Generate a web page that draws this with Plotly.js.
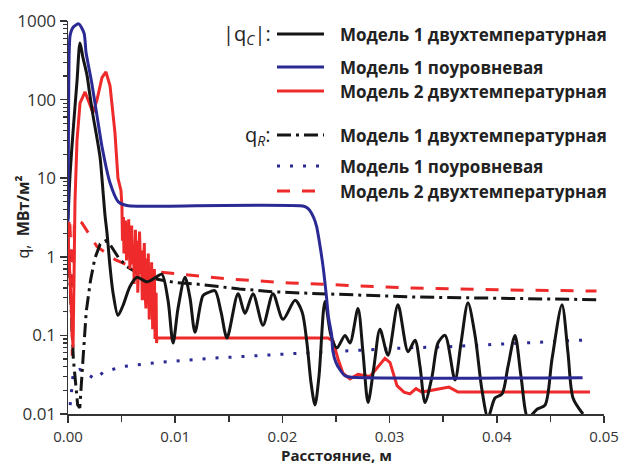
<!DOCTYPE html>
<html><head><meta charset="utf-8">
<script src="https://cdn.plot.ly/plotly-3.0.1.min.js"></script>
<style>html,body{margin:0;padding:0;background:#fff}#g{width:621px;height:466px}</style>
</head><body><div id="g"></div>
<script>
// |q_c| Model 1 two-temperature (black solid)
const x_qc1_2T = [0,0.00019,0.00047,0.00084,0.00112,0.0014,0.00177,0.002,0.00233,0.00271,0.003,0.00327,0.00345,0.00364,0.00392,0.00420,0.00466,0.00513,0.00578,0.00644,0.00737,0.0083,0.00876,0.00933,0.0098,0.01026,0.01091,0.01138,0.01185,0.01259,0.01306,0.01371,0.01427,0.01483,0.01586,0.01651,0.01726,0.01819,0.01912,0.02006,0.02118,0.02183,0.02229,0.02267,0.02304,0.02341,0.02397,0.02453,0.02509,0.02584,0.02631,0.02705,0.02752,0.02799,0.02854,0.0291,0.02985,0.03078,0.03172,0.03237,0.03284,0.0333,0.03396,0.03451,0.03517,0.0361,0.03666,0.03731,0.03797,0.03862,0.03918,0.03983,0.04049,0.04104,0.0417,0.04226,0.04291,0.04375,0.0445,0.04515,0.04608,0.04664,0.04711,0.04804];
const qc1_2T   = [3,11,39,170,525,340,205,125,63,32,18,6.7,3.4,2.0,0.75,0.35,0.18,0.24,0.42,0.55,0.48,0.56,0.6,0.28,0.08,0.22,0.55,0.3,0.11,0.32,0.35,0.37,0.2,0.093,0.34,0.19,0.34,0.135,0.34,0.16,0.28,0.2,0.08,0.025,0.013,0.03,0.27,0.1,0.069,0.1,0.08,0.22,0.06,0.014,0.04,0.12,0.056,0.245,0.062,0.087,0.04,0.014,0.03,0.08,0.1,0.027,0.08,0.26,0.1,0.02,0.009,0.016,0.018,0.04,0.1,0.03,0.009,0.0115,0.013,0.05,0.245,0.06,0.016,0.01];

// |q_c| Model 1 level-based (blue solid)
const x_qc1_lvl = [0,0.00005,0.0001,0.0002,0.0005,0.001,0.0015,0.00168,0.0019,0.0022,0.0027,0.0032,0.0039,0.0047,0.0055,0.0065,0.0220,0.0224,0.0229,0.0232,0.0235,0.0238,0.0241,0.0243,0.0246,0.0247,0.0250,0.0254,0.0258,0.0263,0.0480];
const qc1_lvl   = [2.8,60,350,660,840,920,700,400,275,167,63,24,8.9,5.0,4.5,4.4,4.4,4.1,3.2,2.4,1.4,0.74,0.32,0.17,0.1,0.064,0.045,0.036,0.031,0.0295,0.029];

// |q_c| Model 2 two-temperature (red solid)
const x_qc2_2T = [0,0.00019,0.00037,0.00047,0.00056,0.00065,0.00084,0.00112,0.00159,0.00196,0.00233,0.00271,0.00317,0.00354,0.00392,0.00438,0.00466,0.00494,
0.00503,0.00508,0.00517,0.00522,0.00529,0.00536,0.00546,0.00552,0.00561,0.00566,0.00578,0.00584,0.00594,0.00601,0.00612,0.00617,0.00629,0.00633,0.00645,0.00651,0.00660,0.00667,0.00679,0.00684,0.00693,0.00701,0.00712,0.00716,0.00727,0.00733,0.00745,0.00749,0.00758,0.00766,0.00775,0.00780,0.00790,0.00795,0.00806,0.00812,0.00822,0.00826,0.00830,
0.02425,0.02472,0.02519,0.02565,0.02631,0.02705,0.02817,0.02892,0.02957,0.03004,0.03069,0.03134,0.0319,0.03246,0.03302,0.0347,0.03554,0.03638,0.04869];
const qc2_2T   = [2.0,0.5,0.1,0.07,0.5,5,30,90,125,90,68,100,190,225,150,38,10,7,
4.5,1.6,3.2,1.1,2.4,2.9,0.9,2.0,1.3,3.0,0.7,1.9,2.5,0.8,1.4,0.45,2.2,1.0,1.6,0.35,0.9,2.1,0.6,1.2,0.28,0.8,1.5,0.4,0.22,0.95,0.5,1.1,0.16,0.6,0.3,0.85,0.12,0.45,0.7,0.09,0.35,0.08,0.093,
0.093,0.085,0.05,0.033,0.028,0.032,0.03,0.04,0.051,0.045,0.023,0.019,0.018,0.021,0.019,0.021,0.022,0.019,0.019];

// q_R Model 1 two-temperature (black dash-dot)
const x_qr1_2T = [0,0.0002,0.0005,0.0009,0.0011,0.0014,0.0017,0.0021,0.0025,0.003,0.0035,0.0039,0.0047,0.0055,0.007,0.01,0.012,0.016,0.019,0.0216,0.0322,0.04,0.0493];
const qr1_2T   = [1.8,0.5,0.05,0.013,0.012,0.05,0.2,0.5,0.95,1.45,1.6,1.45,0.98,0.75,0.56,0.47,0.45,0.39,0.36,0.347,0.308,0.297,0.285];

// q_R Model 1 level-based (blue dotted)
const x_qr1_lvl = [0.0002,0.0004,0.0005,0.0011,0.0025,0.0033,0.005,0.0089,0.0132,0.0223,0.0322,0.0347,0.0420,0.0487];
const qr1_lvl   = [0.013,0.023,0.034,0.037,0.028,0.034,0.040,0.046,0.051,0.06,0.07,0.071,0.079,0.088];

// q_R Model 2 two-temperature (red dashed)
const x_qr2_2T = [0,0.00015,0.0003,0.0004,0.0005,0.0006,0.0013,0.0027,0.0044,0.0062,0.0086,0.0125,0.015,0.0207,0.025,0.0322,0.04,0.0493];
const qr2_2T   = [1.9,3.2,1.0,0.055,0.5,3.0,2.7,1.35,0.92,0.72,0.64,0.56,0.52,0.465,0.44,0.40,0.38,0.367];

const xTicks = [0,0.01,0.02,0.03,0.04,0.05];
const xTickText = ['0.00','0.01','0.02','0.03','0.04','0.05'];
const yTicks = [0.01,0.1,1,10,100,1000];
const yTickText = ['0.01','0.1','1','10','100','1000'];

const legendLabels = ['Модель 1 двухтемпературная','Модель 1 поуровневая','Модель 2 двухтемпературная',
                      'Модель 1 двухтемпературная','Модель 1 поуровневая','Модель 2 двухтемпературная'];

const BLACK='#151515', BLUE='#2b2a95', RED='#ee2a2a';
const W=3;
const styles = [
  {color:BLACK,width:W,dash:'solid'},
  {color:BLUE,width:W,dash:'solid'},
  {color:RED,width:W,dash:'solid'},
  {color:BLACK,width:W,dash:'14px,5px,3px,5px'},
  {color:BLUE,width:W,dash:'3px,10px'},
  {color:RED,width:W,dash:'13px,12px'}
];

const traces = [
  {x:x_qr1_lvl,y:qr1_lvl,line:styles[4]},
  {x:x_qr2_2T,y:qr2_2T,line:styles[5]},
  {x:x_qr1_2T,y:qr1_2T,line:styles[3]},
  {x:x_qc2_2T,y:qc2_2T,line:Object.assign({shape:'linear'},styles[2])},
  {x:x_qc1_2T,y:qc1_2T,line:Object.assign({shape:'spline',smoothing:0.8},styles[0])},
  {x:x_qc1_lvl,y:qc1_lvl,line:Object.assign({shape:'spline',smoothing:0.6},styles[1])}
].map(t=>Object.assign({type:'scatter',mode:'lines',showlegend:false,hoverinfo:'skip'},t));

// minor log ticks
const yMinor=[];
for(let d=-2;d<3;d++){for(let k=2;k<=9;k++){yMinor.push(k*Math.pow(10,d));}}
const xMinor=[0.005,0.015,0.025,0.035,0.045];

// legend (custom) in plot-area paper coords
const L=68, T=21, PW=536, PH=393;
const px2x = p => (p-L)/PW, py2y = p => (T+PH-p)/PH;
const rowsY=[34,67,91,135,166,191];
const shapes=[], annotations=[];
rowsY.forEach((ry,i)=>{
  shapes.push({type:'line',xref:'paper',yref:'paper',x0:px2x(277),x1:px2x(324),y0:py2y(ry),y1:py2y(ry),
    line:{color:styles[i].color,width:W,dash:styles[i].dash}});
  annotations.push({xref:'paper',yref:'paper',x:px2x(338),y:py2y(ry),xanchor:'left',yanchor:'middle',
    text:'<b>'+legendLabels[i]+'</b>',showarrow:false,font:{size:17,color:'#222'}});
});
annotations.push({xref:'paper',yref:'paper',x:px2x(273),y:py2y(rowsY[0]),xanchor:'right',yanchor:'middle',
  text:'|q<sub><i>C</i></sub>|:',showarrow:false,font:{size:20,color:'#222'}});
annotations.push({xref:'paper',yref:'paper',x:px2x(273),y:py2y(rowsY[3]),xanchor:'right',yanchor:'middle',
  text:'q<sub><i>R</i></sub>:',showarrow:false,font:{size:20,color:'#222'}});
// axis titles placed as annotations to match reference positions
annotations.push({xref:'paper',yref:'paper',x:px2x(22),y:0.5,xanchor:'center',yanchor:'middle',textangle:-90,
  text:'q,  <b>МВт/м²</b>',showarrow:false,font:{size:16,color:'#222'}});
annotations.push({xref:'paper',yref:'paper',x:0.5,y:py2y(455),xanchor:'center',yanchor:'middle',
  text:'<b>Расстояние, м</b>',showarrow:false,font:{size:15,color:'#222'}});

const layout = {
  width:621,height:466,
  margin:{l:L,r:17,t:T,b:52,pad:0},
  paper_bgcolor:'#fff',plot_bgcolor:'#fff',
  font:{family:'Open Sans, DejaVu Sans, sans-serif',size:15,color:'#333'},
  showlegend:false,
  xaxis:{range:[0,0.05],tickmode:'array',tickvals:xTicks,ticktext:xTickText,
    ticks:'outside',ticklen:7,tickwidth:1.5,tickcolor:'#333',
    minor:{tickmode:'array',tickvals:xMinor,ticks:'outside',ticklen:6,tickwidth:1.5,tickcolor:'#333'},
    showline:true,linecolor:'#333',linewidth:1.5,showgrid:false,zeroline:false,
    tickfont:{size:15,color:'#333'},ticklabelstandoff:1},
  yaxis:{type:'log',range:[-2,3],tickmode:'array',tickvals:yTicks,ticktext:yTickText,
    ticks:'outside',ticklen:7,tickwidth:1.5,tickcolor:'#333',
    minor:{tickmode:'array',tickvals:yMinor,ticks:'outside',ticklen:4,tickwidth:1.2,tickcolor:'#333'},
    showline:true,linecolor:'#333',linewidth:1.5,showgrid:false,zeroline:false,
    tickfont:{size:17,color:'#333'}},
  shapes:shapes,annotations:annotations
};
Plotly.newPlot('g',traces,layout,{displayModeBar:false,staticPlot:true});
</script></body></html>
